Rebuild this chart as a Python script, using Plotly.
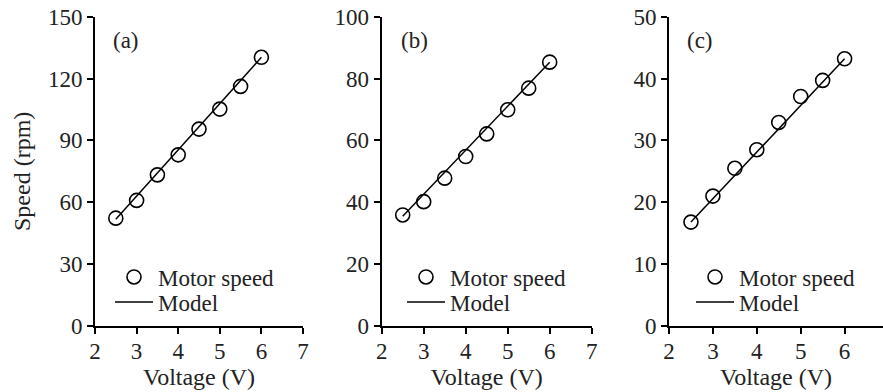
import plotly.graph_objects as go

voltage = [2.5, 3.0, 3.5, 4.0, 4.5, 5.0, 5.5, 6.0]
speed_a = [52.3, 60.9, 73.3, 83.0, 95.5, 105.2, 116.2, 130.3]
speed_b = [35.9, 40.2, 47.8, 54.8, 62.1, 69.9, 76.9, 85.3]
speed_c = [16.8, 21.0, 25.5, 28.5, 32.9, 37.1, 39.7, 43.2]
model_v = [2.5, 6.0]
model_a = [51.8, 130.3]
model_b = [35.5, 85.3]
model_c = [16.8, 43.2]
panel_labels = ["(a)", "(b)", "(c)"]
y_ranges = [[0, 150], [0, 100], [0, 50]]
y_dtick = [30, 20, 10]

FONT = "Liberation Serif, Times New Roman, DejaVu Serif, serif"
FS = 23
FT = 24
COL = "#222"
W, H = 883, 392

fig = go.Figure()

x_domains = [[95 / W, 303 / W], [381.7 / W, 591.7 / W], [669 / W, 1.0]]
x_ranges = [[2, 7], [2, 7], [2, 2 + (883 - 669) / 43.9]]
y_dom = [66 / H, 375.3 / H]

speeds = [speed_a, speed_b, speed_c]
models = [model_a, model_b, model_c]

for i in range(3):
    xa = "x" if i == 0 else f"x{i+1}"
    ya = "y" if i == 0 else f"y{i+1}"
    lg_m = "legend" if i == 0 else f"legend{2*i+1}"
    lg_l = f"legend{2*i+2}"
    fig.add_trace(go.Scatter(
        x=voltage, y=speeds[i], mode="markers", name="Motor speed",
        marker=dict(symbol="circle-open", size=14, color="black",
                    line=dict(width=1.6, color="black")),
        xaxis=xa, yaxis=ya, legend=lg_m, cliponaxis=False))
    fig.add_trace(go.Scatter(
        x=model_v, y=models[i], mode="lines", name="Model",
        line=dict(color="black", width=1.5),
        xaxis=xa, yaxis=ya, legend=lg_l))

axis_common = dict(showline=True, linecolor="black", linewidth=2,
                   ticks="outside", ticklen=6, tickwidth=2, tickcolor="black",
                   showgrid=False, zeroline=False, automargin=False,
                   tickfont=dict(family=FONT, size=FS, color=COL))

layout = dict(width=W, height=H, margin=dict(l=0, r=0, t=0, b=0, autoexpand=False),
              paper_bgcolor="white", plot_bgcolor="white",
              font=dict(family=FONT, size=FS, color=COL),
              showlegend=True)

for i in range(3):
    xk = "xaxis" if i == 0 else f"xaxis{i+1}"
    yk = "yaxis" if i == 0 else f"yaxis{i+1}"
    ya = "y" if i == 0 else f"y{i+1}"
    xa = "x" if i == 0 else f"x{i+1}"
    layout[xk] = dict(domain=x_domains[i], range=x_ranges[i], dtick=1,
                      anchor=ya, ticklabelstandoff=-3,
                      title=dict(text="Voltage (V)", standoff=0,
                                 font=dict(family=FONT, size=FT, color=COL)),
                      **axis_common)
    ydict = dict(domain=y_dom, range=y_ranges[i], dtick=y_dtick[i], anchor=xa,
                 **axis_common)
    if i == 0:
        ydict["title"] = dict(text="Speed (rpm)", standoff=10,
                              font=dict(family=FONT, size=FT, color=COL))
    layout[yk] = ydict

legend_x = [110, 402, 691]
for i in range(3):
    lg_m = "legend" if i == 0 else f"legend{2*i+1}"
    lg_l = f"legend{2*i+2}"
    for key, ypx in ((lg_m, 277), (lg_l, 302)):
        layout[key] = dict(x=legend_x[i] / W, y=(H - ypx) / H, xanchor="left",
                           yanchor="middle", bgcolor="rgba(0,0,0,0)",
                           font=dict(family=FONT, size=FS, color=COL),
                           tracegroupgap=0, itemwidth=38)

fig.update_layout(**layout)

label_x = [126, 414, 700]
for i in range(3):
    fig.add_annotation(text=panel_labels[i], x=label_x[i] / W, y=(H - 41) / H,
                       xref="paper", yref="paper", showarrow=False,
                       xanchor="center", yanchor="middle",
                       font=dict(family=FONT, size=FS, color=COL))

fig.write_html("out.html")
